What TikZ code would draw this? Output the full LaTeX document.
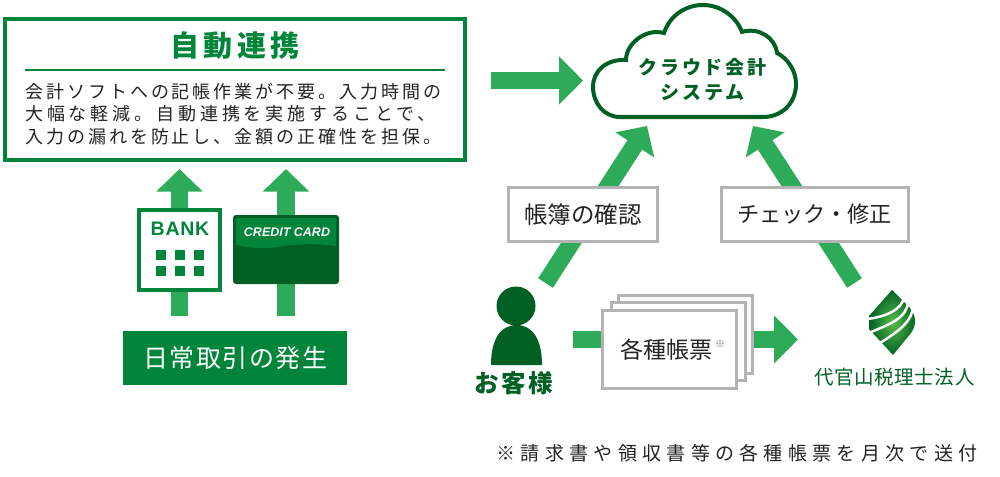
\documentclass[tikz,border=0pt]{standalone}
\usepackage{fontspec}
\usepackage{tikz}
\usetikzlibrary{arrows.meta,backgrounds}
\setmainfont{Noto Sans CJK JP}
\newfontfamily\latinfont{Liberation Sans}
\newcommand{\jpfont}[1]{\fontspec[LetterSpace=#1]{Noto Sans CJK JP}}
\definecolor{framegreen}{RGB}{0,133,58}
\definecolor{arrowgreen}{RGB}{46,171,88}
\definecolor{darkgreen}{RGB}{0,96,36}
\definecolor{boxgray}{RGB}{179,179,179}
\definecolor{inkgray}{RGB}{35,35,35}
\tikzset{
  blockarrow/.style={-{Triangle[length=24pt,width=47pt]},line width=17.5pt,draw=arrowgreen},
  shortarrow/.style={-{Triangle[length=22.5pt,width=45pt]},line width=17.5pt,draw=arrowgreen},
  labelbox/.style={draw=boxgray,line width=3pt,fill=white,text=inkgray,minimum height=54pt},
  docbox/.style={draw=boxgray,line width=3pt,fill=white,minimum width=134pt,minimum height=78pt},
}

\begin{document}
\begin{tikzpicture}[x=1pt,y=-1pt,inner sep=0pt]
\useasboundingbox (0,0) rectangle (1000,476);

% left block
\node[draw=framegreen,line width=4pt,minimum width=460pt,minimum height=141pt] (autobox) at (235,89.5) {};
\node[text=framegreen,font=\fontsize{29}{32}\jpfont{14}\bfseries] (autotitle) at (235,45.5) {自動連携};
\draw[framegreen,line width=2pt] (25,70.5) -- (445,70.5);
\node[anchor=west,align=left,text=inkgray,font=\fontsize{18}{22.7}\jpfont{16.5}] (autotext) at (25,114)
  {会計ソフトへの記帳作業が不要。入力時間の\\
   {\jpfont{21.5}大幅な軽減。自動連携を実施することで、}\\
   入力の漏れを防止し、金額の正確性を担保。};

\node[fill=framegreen,text=white,minimum width=224pt,minimum height=54pt,
  font=\fontsize{25}{30}\jpfont{6}] (banner) at (235,358) {日常取引の発生};

\node[draw=framegreen,line width=4pt,fill=white,minimum width=81pt,minimum height=80pt] (bank) at (179.5,250) {};
\node[text=framegreen,font=\fontsize{19.5}{22}\latinfont\bfseries\addfontfeature{LetterSpace=4}] (banklabel) at (180,229) {BANK};
\foreach \sx in {161,180,199}
  \foreach \sy in {255,271}
    \fill[framegreen] ({\sx-5},{\sy-5}) rectangle +(10,10);

\node[fill=darkgreen,rounded corners=3pt,minimum width=106pt,minimum height=69pt] (card) at (286,249.5) {};
\fill[framegreen] (236,218) -- (336,218) -- (336,246)
  .. controls (315,243) and (295,244) .. (278,247)
  .. controls (262,249) and (250,248) .. (236,245) -- cycle;
\node[text=white,font=\fontsize{12.5}{14}\latinfont\bfseries\itshape] (cardlabel) at (287,232) {CREDIT CARD};

\begin{scope}[on background layer]
\draw[shortarrow,shorten <=15pt,shorten >=7pt] (banner.north -| bank.center) -- (autobox.south -| bank.center);
\draw[shortarrow,shorten <=15pt,shorten >=7pt] (banner.north -| card.center) -- (autobox.south -| card.center);
\end{scope}

% cloud
\draw[darkgreen,line width=4pt,fill=white] (620,117)
  .. controls (604,117) and (593,103) .. (593,87)
  .. controls (593,71) and (606,59) .. (626,60)
  .. controls (626,44) and (645,28) .. (664,33)
  .. controls (670,15) and (686,5) .. (703,5)
  .. controls (720,5) and (736,16) .. (742,32)
  .. controls (758,27) and (775,37) .. (777,53)
  .. controls (787,58) and (796,70) .. (796,84)
  .. controls (796,103) and (782,117) .. (763,117) -- cycle;
\node[align=center,text=darkgreen,font=\fontsize{19}{25}\jpfont{14}\bfseries] (cloud) at (702.5,79.5)
  {クラウド会計\\システム};

\coordinate (syncfrom) at (491,80.5);
\coordinate (syncto)   at (583,80.5);
\coordinate (checkfrom) at (545.5,283);
\coordinate (checkto)   at (647,126);
\coordinate (fixfrom)  at (854.5,283);
\coordinate (fixto)    at (753,126);
\coordinate (docfrom)  at (573,339.5);
\coordinate (docto)    at (798,339.5);

\begin{scope}[on background layer]
\draw[blockarrow] (syncfrom) -- (syncto);
\draw[shortarrow] (checkfrom) -- (checkto);
\draw[shortarrow] (fixfrom) -- (fixto);
\draw[blockarrow] (docfrom) -- (docto);
\end{scope}

\node[labelbox,minimum width=149pt,font=\fontsize{23.5}{28}\jpfont{0}] (checklabel) at (583,214.5) {帳簿の確認};
\node[labelbox,minimum width=187pt,font=\fontsize{22.2}{28}\jpfont{0}] (fixlabel) at (814.5,214.5) {チェック・修正};

% customer
\node[circle,fill=darkgreen,minimum size=39pt] (custhead) at (516,306) {};
\fill[darkgreen] (491,365) .. controls (491,340) and (500,325) .. (516.5,325)
  .. controls (533,325) and (542,340) .. (542,365) -- cycle;
\node[text=darkgreen,font=\fontsize{24.5}{28}\jpfont{10}\bfseries] (custlabel) at (514,383.5) {お客様};

% stacked slips
\node[docbox] (slipc) at (685.5,334) {};
\node[docbox] (slipb) at (678,341.5) {};
\node[docbox] (slipa) at (669.5,349.5) {};
\node[text=inkgray,font=\fontsize{23}{28}\jpfont{0}] (sliplabel) at (666.5,350) {各種帳票};
\node[text=black!55,font=\fontsize{10}{11}\jpfont{0}] (slipmark) at (720,344) {※};

% logo
\shade[inner color=arrowgreen!80!yellow,outer color=darkgreen] (892,290) -- (910,308)
  .. controls (916,315) and (917,325) .. (911,333) -- (893,355) -- (869,329) -- (869,316) -- cycle;
\draw[white,line width=2.5pt] (904,297) .. controls (902,310) and (885,317) .. (867,319);
\draw[white,line width=2.5pt] (908,301) .. controls (908,318) and (888,325) .. (871,332);
\draw[white,line width=2.5pt] (913,305) .. controls (913,322) and (897,332) .. (880,343);
\node[text=darkgreen,font=\fontsize{19.5}{22}\jpfont{3}] (firmname) at (894.5,377) {代官山税理士法人};

% note
\node[text=inkgray,font=\fontsize{19}{22}\jpfont{28}] (footnote) at (737,453.5) {※請求書や領収書等の各種帳票を月次で送付};
\end{tikzpicture}
\end{document}
